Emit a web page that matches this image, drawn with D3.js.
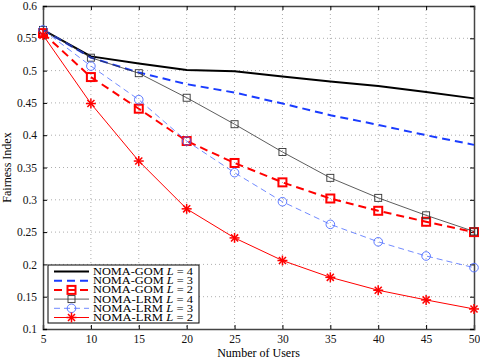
<html>
<head>
<script src="https://d3js.org/d3.v7.min.js"></script>
<style>
  body { margin: 0; background: #fff; }
  text { font-family: "Liberation Serif", "DejaVu Serif", serif; }
</style>
</head>
<body>
<div id="chart"></div>
<script>
// data
var users = [5, 10, 15, 20, 25, 30, 35, 40, 45, 50];
var gomL4 = [0.563, 0.522, 0.511, 0.501, 0.499, 0.491, 0.483, 0.476, 0.467, 0.457];
var gomL3 = [0.563, 0.520, 0.497, 0.479, 0.466, 0.449, 0.431, 0.416, 0.400, 0.385];
var gomL2 = [0.558, 0.490, 0.441, 0.391, 0.357, 0.327, 0.302, 0.283, 0.266, 0.250];
var lrmL4 = [0.563, 0.520, 0.496, 0.458, 0.417, 0.374, 0.334, 0.303, 0.276, 0.251];
var lrmL3 = [0.563, 0.507, 0.455, 0.391, 0.342, 0.297, 0.262, 0.235, 0.213, 0.195];
var lrmL2 = [0.555, 0.449, 0.360, 0.286, 0.241, 0.206, 0.180, 0.160, 0.145, 0.131];
var xTicks = [5, 10, 15, 20, 25, 30, 35, 40, 45, 50];
var yTicks = [0.1, 0.15, 0.2, 0.25, 0.3, 0.35, 0.4, 0.45, 0.5, 0.55, 0.6];

var series = [
  {name: "NOMA-GOM", L: 4, vals: gomL4, color: "#000", width: 2, dash: null, marker: null},
  {name: "NOMA-GOM", L: 3, vals: gomL3, color: "#1a3cff", width: 2, dash: "8,5", marker: null},
  {name: "NOMA-GOM", L: 2, vals: gomL2, color: "#ff0000", width: 2, dash: "8,5", marker: "bigsquare"},
  {name: "NOMA-LRM", L: 4, vals: lrmL4, color: "#333", width: 0.8, dash: null, marker: "square"},
  {name: "NOMA-LRM", L: 3, vals: lrmL3, color: "#4d6cff", width: 0.8, dash: "6,4", marker: "circle"},
  {name: "NOMA-LRM", L: 2, vals: lrmL2, color: "#ff0000", width: 1, dash: null, marker: "star"}
];

var margin = {top: 6, right: 6, bottom: 31, left: 43},
    W = 480, H = 360,
    width = W - margin.left - margin.right,
    height = H - margin.top - margin.bottom;

var svg = d3.select("#chart").append("svg")
  .attr("width", W).attr("height", H);
var g = svg.append("g")
  .attr("transform", "translate(" + margin.left + "," + margin.top + ")");

var x = d3.scaleLinear().domain([5, 50]).range([0, width]);
var y = d3.scaleLinear().domain([0.1, 0.6]).range([height, 0]);

// grid
g.selectAll(".vgrid").data(xTicks.slice(1, -1)).enter().append("line")
  .attr("x1", d => x(d)).attr("x2", d => x(d))
  .attr("y1", 0).attr("y2", height)
  .attr("stroke", "#999").attr("stroke-width", 0.8).attr("stroke-dasharray", "1,3");
g.selectAll(".hgrid").data(yTicks.slice(1, -1)).enter().append("line")
  .attr("x1", 0).attr("x2", width)
  .attr("y1", d => y(d)).attr("y2", d => y(d))
  .attr("stroke", "#999").attr("stroke-width", 0.8).attr("stroke-dasharray", "1,3");

// axes
var xAxis = g.append("g").attr("transform", "translate(0," + height + ")")
  .call(d3.axisBottom(x).tickValues(xTicks).tickSize(-4).tickPadding(6).tickFormat(d3.format("d")));
var xTop = g.append("g")
  .call(d3.axisTop(x).tickValues(xTicks).tickSize(-4).tickFormat(""));
var yAxis = g.append("g")
  .call(d3.axisLeft(y).tickValues(yTicks).tickSize(-4).tickPadding(6).tickFormat(d => d3.format("")(+d.toFixed(2))));
var yRight = g.append("g").attr("transform", "translate(" + width + ",0)")
  .call(d3.axisRight(y).tickValues(yTicks).tickSize(-4).tickFormat(""));
[xAxis, xTop, yAxis, yRight].forEach(function(a) {
  a.select(".domain").attr("stroke", "#444").attr("stroke-width", 1.5);
  a.selectAll("text").attr("font-size", 11.5).attr("fill", "#111");
});

// lines and markers
var line = d3.line().x((d, i) => x(users[i])).y(d => y(d));

function drawMarker(sel, type, color, cx, cy) {
  if (type === "bigsquare") {
    sel.append("rect").attr("x", cx - 4).attr("y", cy - 4).attr("width", 8).attr("height", 8)
      .attr("fill", "none").attr("stroke", color).attr("stroke-width", 2);
  } else if (type === "square") {
    sel.append("rect").attr("x", cx - 3.5).attr("y", cy - 3.5).attr("width", 7).attr("height", 7)
      .attr("fill", "none").attr("stroke", color).attr("stroke-width", 0.9);
  } else if (type === "circle") {
    sel.append("circle").attr("cx", cx).attr("cy", cy).attr("r", 4.3)
      .attr("fill", "none").attr("stroke", color).attr("stroke-width", 0.9);
  } else if (type === "star") {
    var r = 5;
    [0, 45, 90, 135].forEach(function(a) {
      var rad = a * Math.PI / 180;
      sel.append("line")
        .attr("x1", cx - r * Math.cos(rad)).attr("y1", cy - r * Math.sin(rad))
        .attr("x2", cx + r * Math.cos(rad)).attr("y2", cy + r * Math.sin(rad))
        .attr("stroke", color).attr("stroke-width", 1.5);
    });
  }
}

series.forEach(function(s) {
  g.append("path").datum(s.vals)
    .attr("fill", "none").attr("stroke", s.color)
    .attr("stroke-width", s.width)
    .attr("stroke-dasharray", s.dash)
    .attr("d", line);
  if (s.marker) {
    var mg = g.append("g");
    s.vals.forEach(function(v, i) { drawMarker(mg, s.marker, s.color, x(users[i]), y(v)); });
  }
});

// legend
var lg = svg.append("g").attr("transform", "translate(48,265)");
lg.append("rect").attr("width", 151).attr("height", 58)
  .attr("fill", "#fff").attr("stroke", "#000").attr("stroke-width", 1);
series.forEach(function(s, i) {
  var yy = 6.5 + i * 9.2;
  lg.append("line").attr("x1", 6).attr("x2", 41).attr("y1", yy).attr("y2", yy)
    .attr("stroke", s.color).attr("stroke-width", s.width).attr("stroke-dasharray", s.dash);
  if (s.marker) drawMarker(lg, s.marker, s.color, 23.5, yy);
  var t = lg.append("text").attr("x", 45).attr("y", yy + 3.4)
    .attr("font-family", "DejaVu Serif").attr("font-size", 9.4).attr("fill", "#000")
    .attr("textLength", 100).attr("lengthAdjust", "spacingAndGlyphs");
  t.append("tspan").text(s.name + " ");
  t.append("tspan").attr("font-style", "italic").text("L");
  t.append("tspan").text(" = " + s.L);
});

// axis titles
svg.append("text").attr("x", margin.left + width / 2).attr("y", 357)
  .attr("text-anchor", "middle").attr("font-size", 12).text("Number of Users");
svg.append("text").attr("transform", "translate(11," + (margin.top + height / 2) + ") rotate(-90)")
  .attr("text-anchor", "middle").attr("font-size", 12).text("Fairness Index");
</script>
</body>
</html>
